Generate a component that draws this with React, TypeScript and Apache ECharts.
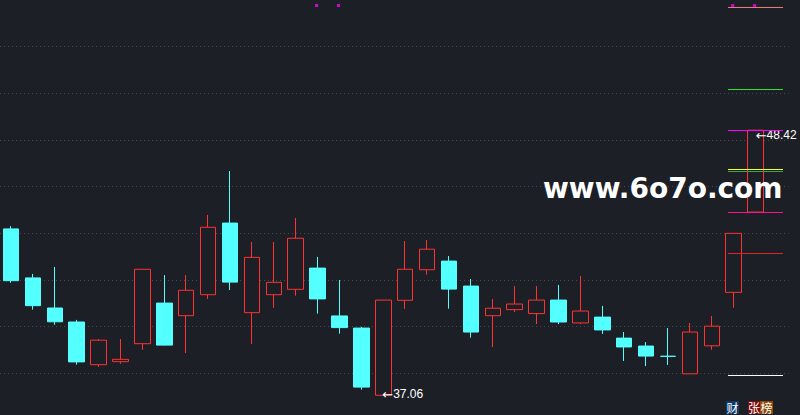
import React, { useEffect, useRef } from 'react';
import * as echarts from 'echarts';

// 36 trading slots (the last one is empty)
const categories = [
  '1', '2', '3', '4', '5', '6', '7', '8', '9', '10', '11', '12',
  '13', '14', '15', '16', '17', '18', '19', '20', '21', '22', '23', '24',
  '25', '26', '27', '28', '29', '30', '31', '32', '33', '34', '35', '36',
];

// [open, close, low, high]
const candles: number[][] = [
  [44.19, 41.97, 41.88, 44.31],
  [42.09, 40.9, 40.73, 42.26],
  [40.8, 40.21, 40.08, 42.56],
  [40.2, 38.49, 38.37, 40.29],
  [38.37, 39.42, 38.28, 39.47],
  [38.5, 38.6, 38.41, 39.47],
  [39.27, 42.46, 39.0, 42.47],
  [41.01, 39.21, 39.2, 42.21],
  [40.47, 41.56, 38.87, 42.21],
  [41.37, 44.26, 41.19, 44.79],
  [44.44, 41.91, 41.57, 46.67],
  [40.6, 42.97, 39.26, 43.63],
  [41.37, 41.9, 40.81, 43.63],
  [41.6, 43.79, 41.33, 44.66],
  [42.51, 41.19, 40.56, 42.99],
  [40.46, 39.96, 39.7, 42.0],
  [39.94, 37.41, 37.3, 39.99],
  [37.06, 41.14, 37.06, 41.14],
  [41.13, 42.46, 40.76, 43.67],
  [42.44, 43.32, 42.23, 43.71],
  [42.81, 41.61, 40.77, 43.03],
  [41.74, 39.77, 39.53, 42.04],
  [40.47, 40.79, 39.13, 41.19],
  [40.73, 40.97, 40.63, 41.74],
  [40.56, 41.14, 40.11, 41.74],
  [41.14, 40.2, 40.11, 41.79],
  [40.16, 40.67, 40.11, 42.17],
  [40.41, 39.86, 39.69, 40.89],
  [39.51, 39.13, 38.53, 39.77],
  [39.17, 38.74, 38.31, 39.34],
  [38.73, 38.73, 38.36, 39.94],
  [37.98, 39.77, 37.98, 40.16],
  [39.18, 40.02, 39.01, 40.46],
  [41.47, 44.0, 40.81, 44.0],
  [44.91, 48.42, 44.91, 48.42],
];

// signal markers shown at the top of some candles
const signalIndices = [14, 15, 33, 34];
const signalLevel = 53.764;

// extreme labels
const lowMark = { index: 17, value: 37.06, text: '37.06' };
const highMark = { index: 34, value: 48.42, text: '48.42' };

// price levels drawn at the right side
const levelPrices = [53.68, 50.164, 48.407, 46.736, 46.65, 44.893, 43.136, 37.907];
const levelColors = ['#f27e7e', '#2fe02f', '#ff00ff', '#ffff33', '#3aa83a', '#ff1493', '#e02424', '#ffffff'];

const watermark = 'www.6o7o.com';
const badges = [
  { text: '财', bg: '#0d3a6b' },
  { text: '张', bg: '#7c0a0a' },
  { text: '榜', bg: '#8c4a05' },
];

const BG = '#1c1f26';
const UP = '#ff3232';
const DOWN = '#54ffff';

export default function App() {
  const ref = useRef<HTMLDivElement>(null);

  useEffect(() => {
    if (!ref.current) return;
    const chart = echarts.init(ref.current, undefined, { renderer: 'svg' });

    const levelSeries = levelPrices.map((p, i) => ({
      type: 'line',
      xAxisIndex: 1,
      yAxisIndex: 1,
      symbol: 'none',
      silent: true,
      z: 5,
      lineStyle: { color: levelColors[i], width: 1 },
      data: [
        [728, p],
        [783, p],
      ],
    }));

    const badgeX = [726, 748, 760];
    const badgeW = [13, 12, 13];

    const markLabel = (text: string) => '{a|←}{b|' + text + '}';
    const rich = {
      a: { fontFamily: 'DejaVu Sans', fontSize: 13, color: '#ffffff' },
      b: { fontFamily: 'Liberation Sans', fontSize: 12, color: '#ffffff' },
    };

    chart.setOption({
      animation: false,
      backgroundColor: BG,
      grid: [
        { left: -1.5, top: 0, width: 790, height: 420 },
        { left: 0, top: 0, width: 800, height: 420 },
      ],
      xAxis: [
        {
          type: 'category',
          gridIndex: 0,
          data: categories,
          boundaryGap: true,
          show: false,
        },
        { type: 'value', gridIndex: 1, min: 0, max: 800, show: false },
      ],
      yAxis: [
        {
          type: 'value',
          gridIndex: 0,
          min: 36,
          max: 54,
          interval: 2,
          axisLine: { show: false },
          axisTick: { show: false },
          axisLabel: { show: false },
          splitLine: {
            show: true,
            showMinLine: false,
            showMaxLine: false,
            lineStyle: { color: '#454851', width: 1, type: [1, 3] },
          },
        },
        { type: 'value', gridIndex: 1, min: 36, max: 54, show: false },
      ],
      series: [
        {
          type: 'candlestick',
          xAxisIndex: 0,
          yAxisIndex: 0,
          barWidth: 16,
          z: 3,
          data: candles,
          itemStyle: {
            color: BG,
            color0: DOWN,
            borderColor: UP,
            borderColor0: DOWN,
            borderWidth: 1,
          },
          markPoint: {
            symbol: 'circle',
            symbolSize: 0,
            silent: true,
            label: {
              show: true,
              position: 'right',
              distance: 0,
              rich,
            },
            data: [
              {
                coord: [lowMark.index, lowMark.value],
                label: { formatter: markLabel(lowMark.text), offset: [-1, -1] },
              },
              {
                coord: [highMark.index, highMark.value],
                label: { formatter: markLabel(highMark.text), offset: [0, 5] },
              },
            ],
          },
        },
        {
          type: 'scatter',
          xAxisIndex: 0,
          yAxisIndex: 0,
          symbol: 'rect',
          symbolSize: 3,
          symbolOffset: [-1, 0],
          z: 6,
          itemStyle: { color: '#ff00ff' },
          data: signalIndices.map((i) => [i, signalLevel]),
        },
        ...levelSeries,
      ],
      graphic: [
        {
          type: 'text',
          x: 543,
          y: 188,
          z: 10,
          style: {
            text: watermark,
            fill: '#ffffff',
            font: 'bold 28px "DejaVu Sans"',
            verticalAlign: 'middle',
          },
        },
        ...badges.map((b, i) => ({
          type: 'group',
          x: badgeX[i],
          y: 401,
          children: [
            { type: 'rect', shape: { x: 0, y: 0, width: badgeW[i], height: 13 }, style: { fill: b.bg } },
            {
              type: 'text',
              x: badgeW[i] / 2,
              y: 6.5,
              style: {
                text: b.text,
                fill: '#ffffff',
                font: '12px "Noto Sans CJK SC"',
                align: 'center',
                verticalAlign: 'middle',
              },
            },
          ],
        })),
      ],
    });

    return () => chart.dispose();
  }, []);

  return (
    <div style={{ position: 'fixed', left: 0, top: 0, width: 800, height: 415, overflow: 'hidden', background: BG }}>
      <div ref={ref} style={{ width: 800, height: 420 }} />
    </div>
  );
}
